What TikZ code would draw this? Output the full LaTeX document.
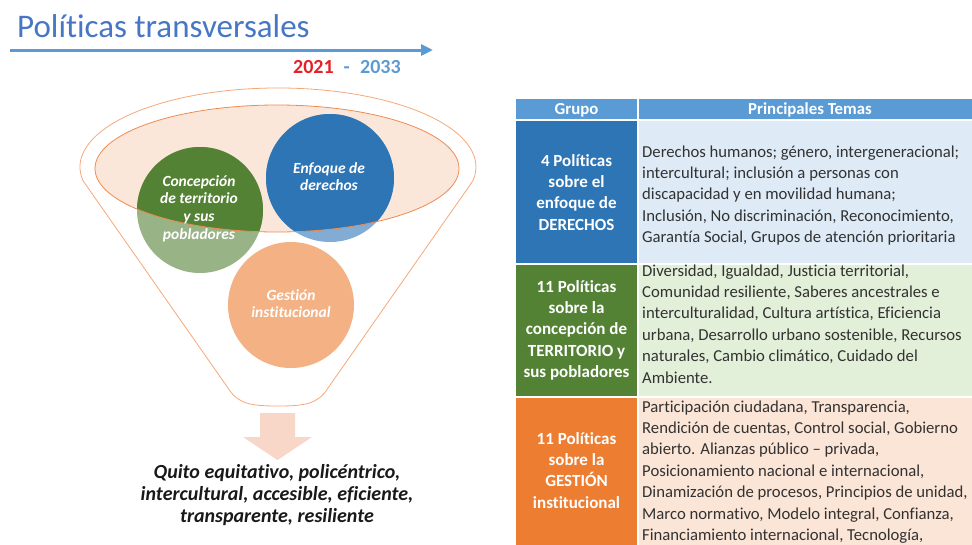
\documentclass[tikz,border=0pt]{standalone}
\usepackage{fontspec}
\setmainfont{Carlito}[Ligatures=NoCommon]
\usetikzlibrary{arrows.meta}
\definecolor{titleblue}{RGB}{70,118,196}
\definecolor{lineblue}{RGB}{91,155,213}
\definecolor{datered}{RGB}{228,32,40}
\definecolor{funnelorange}{RGB}{244,168,120}
\definecolor{rimline}{RGB}{238,140,80}
\definecolor{peach}{RGB}{251,230,218}
\definecolor{cgreen}{RGB}{84,130,53}
\definecolor{cblue}{RGB}{46,117,182}
\definecolor{corange}{RGB}{237,125,49}
\definecolor{pinkarrow}{RGB}{248,214,200}
\definecolor{hdrblue}{RGB}{91,155,213}
\definecolor{lblue}{RGB}{222,235,247}
\definecolor{lgreen}{RGB}{226,240,217}
\definecolor{lorange}{RGB}{251,229,214}
\definecolor{txt}{RGB}{50,50,50}
\tikzset{
  timeline/.style={draw=lineblue, line width=3pt, -{Triangle[length=12pt,width=11pt]}},
  funnelline/.style={draw=funnelorange, line width=0.8pt},
  rimline/.style={draw=rimline, line width=0.8pt},
  circtext/.style={anchor=base, inner sep=0, text=white, font=\fontsize{15.5}{17.7}\selectfont\bfseries\itshape},
  hdrtext/.style={anchor=base, inner sep=0, text=white, font=\fontsize{16.8}{19}\selectfont\bfseries},
  grptext/.style={anchor=base, inner sep=0, text=white, font=\fontsize{17}{21.4}\selectfont\bfseries},
  bodytext/.style={anchor=base west, inner sep=0, text=txt, font=\fontsize{16.7}{21.4}\selectfont},
}
\newcommand{\ctr}[2]{\parbox[t]{#1pt}{\centering #2}}
\newcommand{\lft}[1]{\parbox[t]{340pt}{\raggedright #1}}
\begin{document}
\begin{tikzpicture}[x=1pt,y=-1pt]
\useasboundingbox (0,0) rectangle (972,544);
\clip (0,0) rectangle (972,544);
% title and timeline
\node[anchor=base west, inner sep=0, text=titleblue, font=\fontsize{33}{38}\selectfont] (title) at (17,37) {Políticas transversales};
\coordinate (a0) at (10,50);
\coordinate (a1) at (433,50);
\draw[timeline] (a0) -- (a1);
\node[anchor=base west, inner sep=0, text=datered, font=\fontsize{20}{24}\selectfont\bfseries] (d1) at (293,73) {2021};
\node[anchor=base west, inner sep=0, text=lineblue, font=\fontsize{20}{24}\selectfont\bfseries] (d2) at (343.5,73) {-};
\node[anchor=base west, inner sep=0, text=lineblue, font=\fontsize{20}{24}\selectfont\bfseries] (d3) at (360,73) {2033};
% funnel
\draw[funnelline] (83,180.7) arc[start angle=170, end angle=370, x radius=198, y radius=79]
  -- (328,388) .. controls (318,404) and (305,406) .. (278,406)
  .. controls (251,406) and (238,404) .. (228,388) -- cycle;
\fill[peach] (277,168.5) ellipse[x radius=182, y radius=63.5];
\fill[cgreen, fill opacity=0.6] (200,210) circle[radius=63];
\fill[cblue, fill opacity=0.6] (330,178) circle[radius=64];
\fill[corange, fill opacity=0.6] (291,305) circle[radius=63];
\begin{scope}
  \clip (277,168.5) ellipse[x radius=182, y radius=63.5];
  \fill[cgreen] (200,210) circle[radius=63];
  \fill[cblue] (330,178) circle[radius=64];
\end{scope}
\draw[rimline] (277,168.5) ellipse[x radius=182, y radius=63.5];
\node[circtext] (cg) at (199,186) {\ctr{120}{Concepción\\de territorio\\y sus\\pobladores}};
\node[circtext] (cb) at (329,173) {\ctr{120}{Enfoque de\\derechos}};
\node[circtext] (co) at (291,300) {\ctr{120}{Gestión\\institucional}};
% down arrow
\fill[pinkarrow] (260,413) -- (295,413) -- (295,437) -- (312,437) -- (277.5,460) -- (243,437) -- (260,437) -- cycle;
\node[anchor=base, inner sep=0, text=black!90, font=\fontsize{20}{22}\selectfont\bfseries\itshape] (res) at (277,478)
  {\ctr{330}{Quito equitativo, policéntrico,\\intercultural, accesible, eficiente,\\transparente, resiliente}};
% table cells
\fill[hdrblue] (516,99) rectangle (637,119);
\fill[hdrblue] (639,99) rectangle (980,119);
\fill[cblue] (516,121) rectangle (637,263);
\fill[lblue] (639,121) rectangle (980,263);
\fill[cgreen] (516,265) rectangle (637,395.5);
\fill[lgreen] (639,265) rectangle (980,395.5);
\fill[corange] (516,397.5) rectangle (637,560);
\fill[lorange] (639,397.5) rectangle (980,560);
% table text
\node[hdrtext] (h1) at (576.5,114) {Grupo};
\node[hdrtext] (h2) at (810,114) {Principales Temas};
\node[grptext] (g1) at (576.5,166) {\ctr{120}{4 Políticas\\sobre el\\enfoque de\\DERECHOS}};
\node[grptext] (g2) at (576.5,292) {\ctr{120}{11 Políticas\\sobre la\\concepción de\\TERRITORIO y\\sus pobladores}};
\node[grptext] (g3) at (576.5,444) {\ctr{120}{11 Políticas\\sobre la\\GESTIÓN\\institucional}};
\node[bodytext] (b1) at (642,157) {\lft{Derechos humanos; género, intergeneracional;\\intercultural; inclusión a personas con\\discapacidad y en movilidad humana;\\Inclusión, No discriminación, Reconocimiento,\\Garantía Social, Grupos de atención prioritaria}};
\node[bodytext] (b2) at (642,276) {\lft{Diversidad, Igualdad, Justicia territorial,\\Comunidad resiliente, Saberes ancestrales e\\interculturalidad, Cultura artística, Eficiencia\\urbana, Desarrollo urbano sostenible, Recursos\\naturales, Cambio climático, Cuidado del\\Ambiente.}};
\node[bodytext] (b3) at (642,412) {\lft{Participación ciudadana, Transparencia,\\Rendición de cuentas, Control social, Gobierno\\abierto. Alianzas público – privada,\\Posicionamiento nacional e internacional,\\Dinamización de procesos, Principios de unidad,\\Marco normativo, Modelo integral, Confianza,\\Financiamiento internacional, Tecnología,}};
\end{tikzpicture}
\end{document}
